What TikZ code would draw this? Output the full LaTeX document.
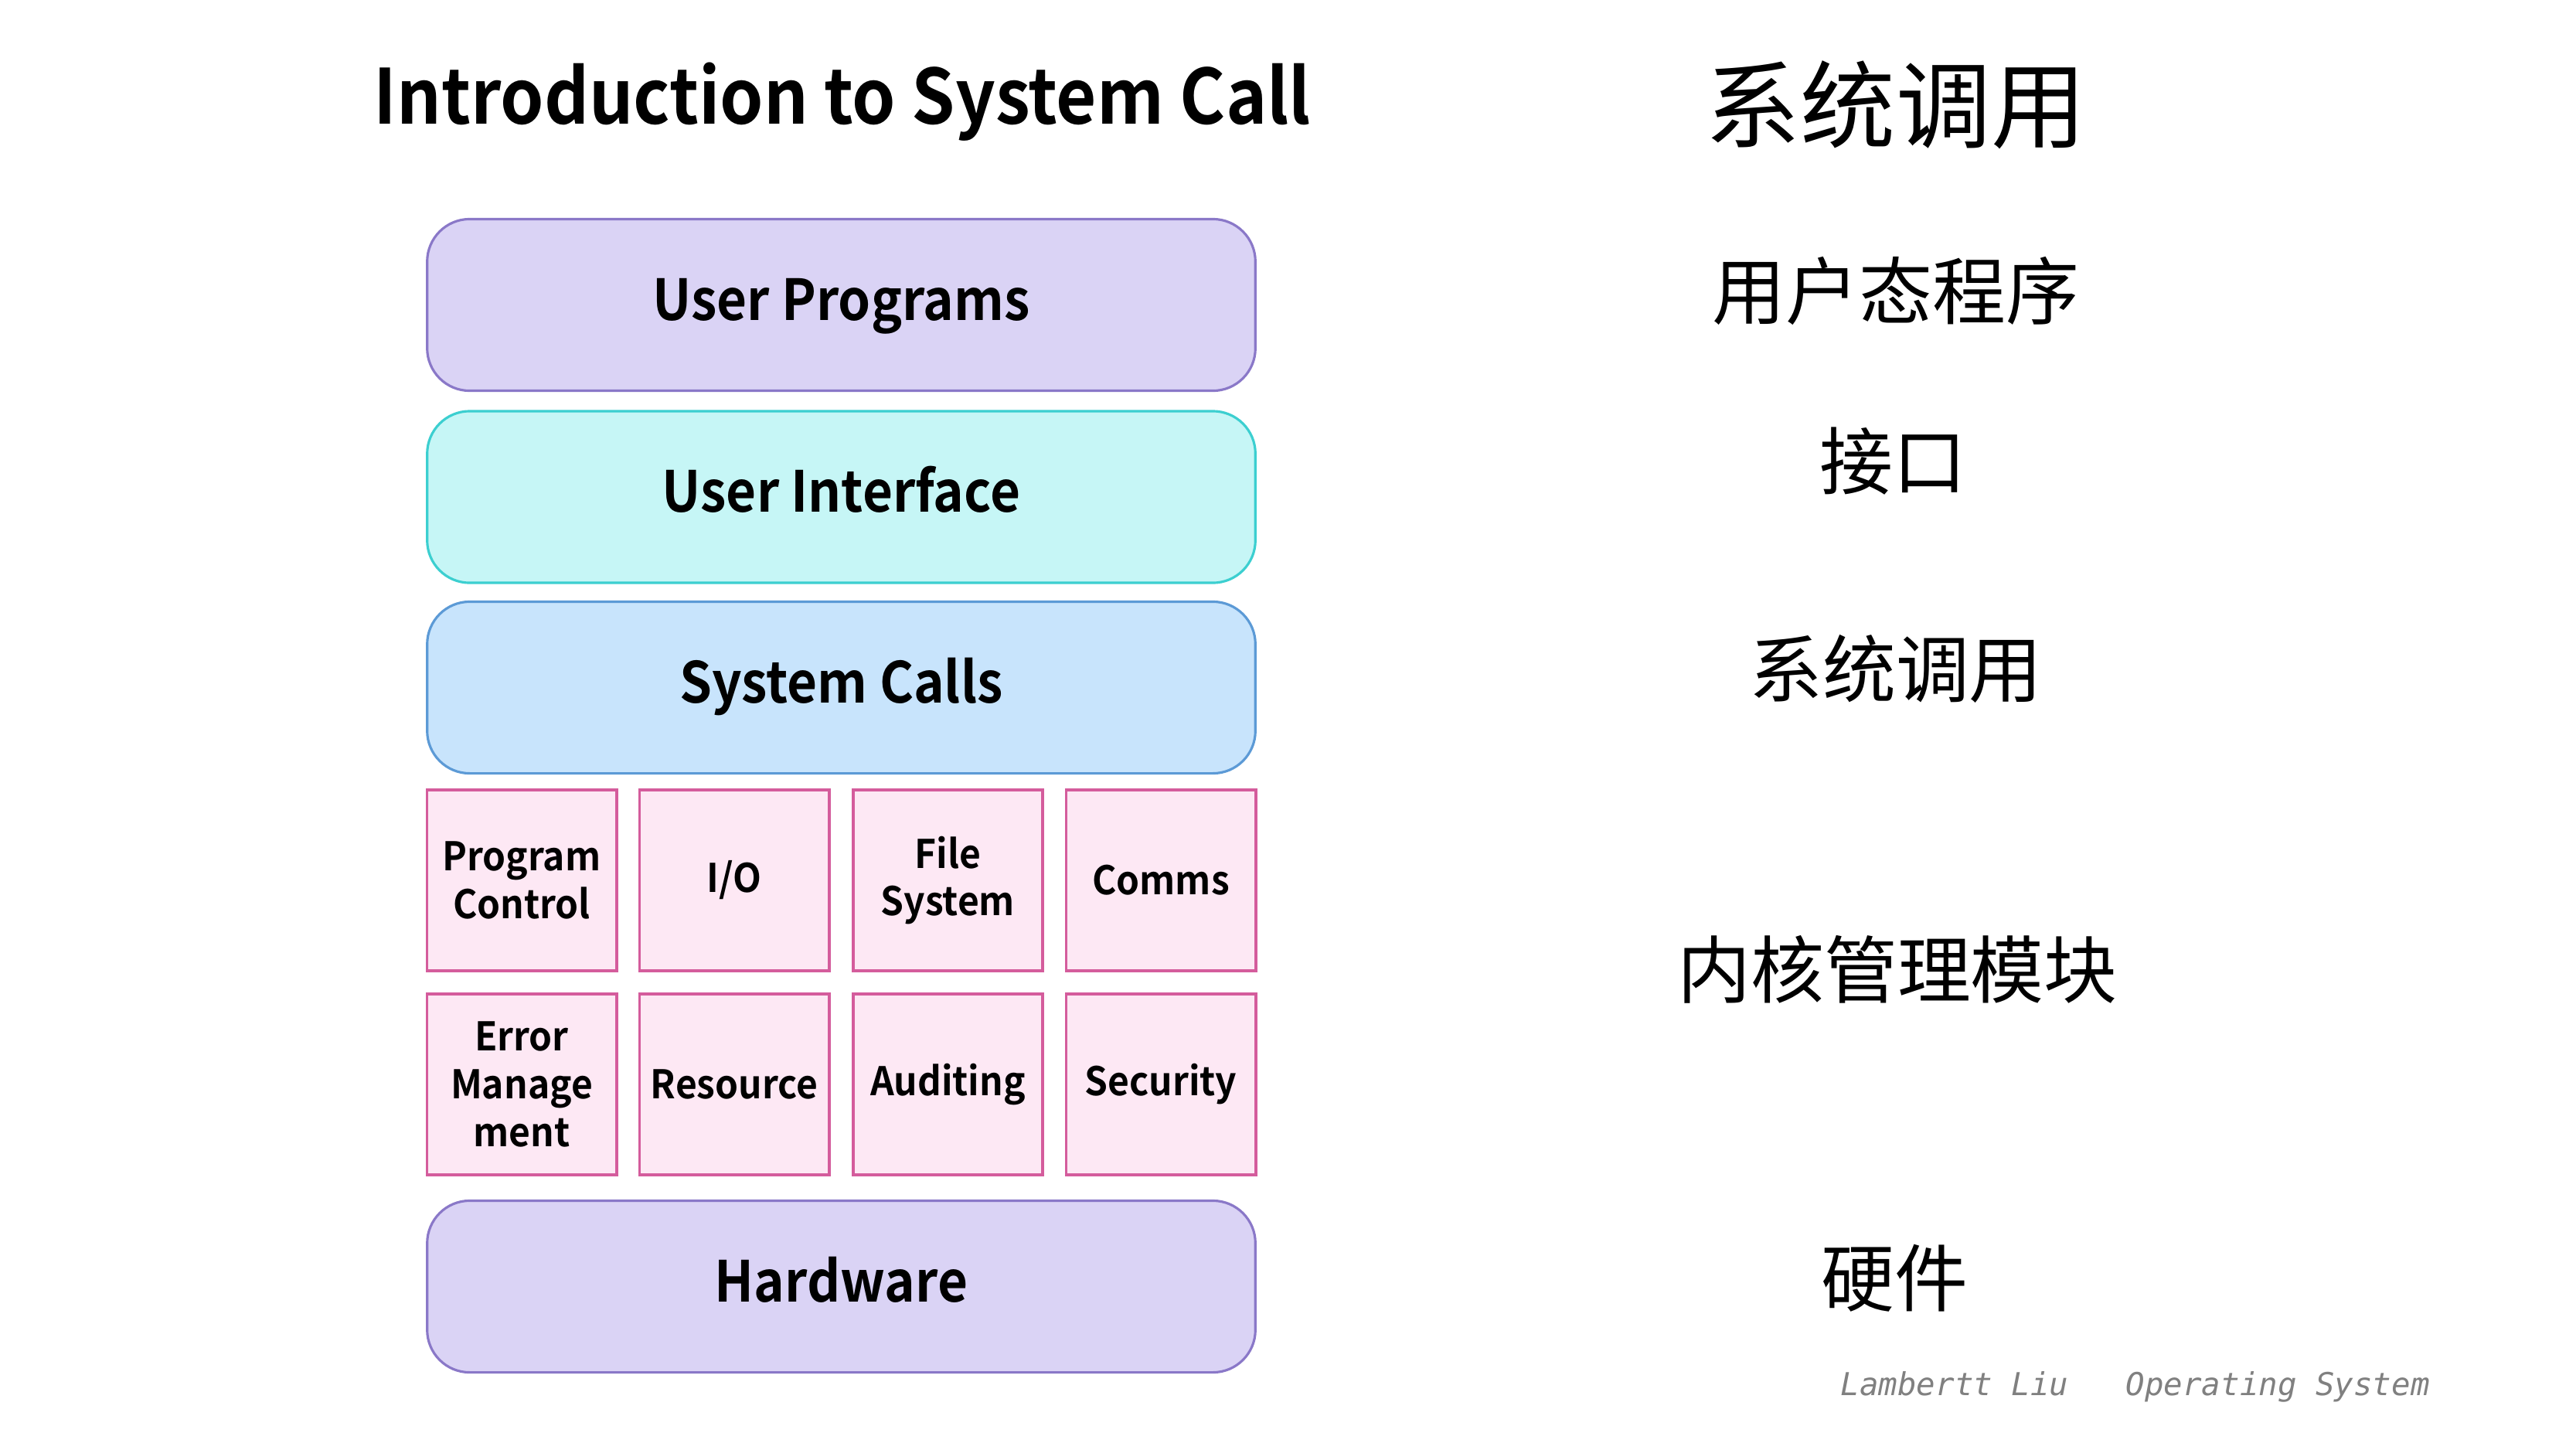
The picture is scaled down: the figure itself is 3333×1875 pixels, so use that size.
\documentclass[tikz,border=0pt]{standalone}
\usepackage{fontspec}
\setmainfont{Noto Sans CJK SC}
\newfontfamily\titlefont{Noto Sans CJK SC Bold}[FakeStretch=0.92]
\newfontfamily\layerfont{Noto Sans CJK SC Bold}[FakeStretch=0.92]
\newfontfamily\modfont{Noto Sans CJK SC Bold}[FakeStretch=0.94]
\newfontfamily\footfont{DejaVu Sans Mono}
\definecolor{upfill}{HTML}{DAD3F5}
\definecolor{upline}{HTML}{8A78C8}
\definecolor{uifill}{HTML}{C6F6F6}
\definecolor{uiline}{HTML}{3CCFD0}
\definecolor{scfill}{HTML}{C8E4FC}
\definecolor{scline}{HTML}{5C9AD6}
\definecolor{modfill}{HTML}{FDE8F4}
\definecolor{modline}{HTML}{D45C9C}
\definecolor{footgray}{HTML}{808080}
\begin{document}
\begin{tikzpicture}[x=0.01cm,y=-0.01cm,
  layer/.style={draw, rounded corners=0.55cm, line width=0.9pt,
    minimum width=10.71cm, minimum height=2.22cm, inner sep=0pt,
    font=\layerfont\fontsize{20.8}{24}\selectfont, text height=13.7pt, text depth=2.4pt},
  module/.style={draw=modline, fill=modfill, line width=1.1pt,
    minimum width=2.45cm, minimum height=2.34cm, inner sep=0pt, align=center,
    font=\modfont\fontsize{14.5}{17.6}\selectfont},
  cnlabel/.style={font=\fontsize{27}{30}\selectfont, inner sep=0pt},
  credit/.style={font=\footfont\itshape\fontsize{11.6}{13}\selectfont, text=footgray,
    anchor=base west, inner sep=0pt},
  ]
  % canvas
  \path[fill=white, use as bounding box] (0,0) rectangle (3333,1875);

  % headings
  \node[anchor=base, font=\titlefont\fontsize{27.9}{32}\selectfont, inner sep=0pt]
    (title) at (1090,160) {Introduction to System Call};
  \node[font=\fontsize{35}{38}\selectfont, inner sep=0pt] (titlecn) at (2453,136) {系统调用};

  % layered stack
  \node[layer, fill=upfill, draw=upline] (up) at (1088.5,394.5) {User Programs};
  \node[layer, fill=uifill, draw=uiline] (ui) at (1088.5,643) {User Interface};
  \node[layer, fill=scfill, draw=scline] (sc) at (1088.5,889.5) {System Calls};

  % kernel modules
  \node[module] (m11) at (675,1139)    {Program\\Control};
  \node[module] (m12) at (950,1139)    {I/O};
  \node[module] (m13) at (1226.5,1139) {File\\System};
  \node[module] (m14) at (1502,1139)   {Comms};
  \node[module] (m21) at (675,1403)    {Error\\Manage\\ment};
  \node[module] (m22) at (950,1403)    {Resource};
  \node[module] (m23) at (1226.5,1403) {Auditing};
  \node[module] (m24) at (1502,1403)   {Security};

  \node[layer, fill=upfill, draw=upline] (hw) at (1088.5,1664.5) {Hardware};

  % Chinese captions
  \node[cnlabel] (lup)  at (2453,376)  {用户态程序};
  \node[cnlabel] (lui)  at (2449,597)  {接口};
  \node[cnlabel] (lsc)  at (2453,865)  {系统调用};
  \node[cnlabel] (lmod) at (2455,1254) {内核管理模块};
  \node[cnlabel] (lhw)  at (2451,1654) {硬件};

  % credits
  \node[credit] (credA) at (2381,1805) {Lambertt Liu};
  \node[credit] (credB) at (2750,1805) {Operating System};
\end{tikzpicture}
\end{document}
